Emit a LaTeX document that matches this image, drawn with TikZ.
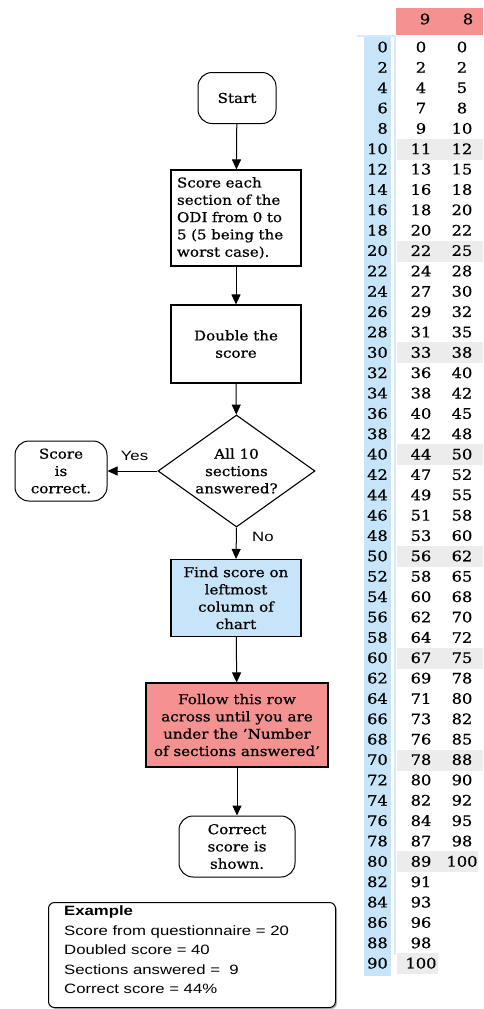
\documentclass[tikz,border=0pt]{standalone}
\usepackage{fontspec}
\setmainfont{DejaVu Serif}[FakeStretch=1.12,FakeBold=0.7]
\newfontfamily\examplefont{Liberation Sans}[FakeStretch=1.24]
\usepackage{tikz}
\usetikzlibrary{shapes,arrows.meta,shadows}

\definecolor{headPink}{RGB}{244,146,146}
\definecolor{colBlue}{RGB}{199,228,248}
\definecolor{lineBlue}{RGB}{214,234,249}
\definecolor{rowGray}{RGB}{236,236,236}

\tikzset{
  flowtext/.style={font=\fontsize{13.5}{17.3}\selectfont},
  terminal/.style={draw, line width=1pt, rounded corners=14pt, align=center, inner sep=0pt, flowtext},
  process/.style={draw, line width=1.1pt, rectangle, align=center, inner sep=0pt, flowtext},
  decision/.style={draw, line width=1.1pt, diamond, aspect=1.4, align=center, inner sep=0pt, flowtext},
  flowarrow/.style={line width=1pt, -{Triangle[length=10pt,width=9pt]}},
  flowlabel/.style={font=\examplefont\fontsize{13.5}{15}\selectfont},
  chartnum/.style={inner sep=0pt, font=\fontsize{14.5}{14.5}\selectfont}
}

\begin{document}
\begin{tikzpicture}[x=1pt,y=-1pt]
  \useasboundingbox (0,0) rectangle (483,1009);

  % chart on the right
  \fill[headPink] (396,8) rectangle (483,35);
  \fill[colBlue] (364,37) rectangle (391,976);
  \foreach \i in {5,10,...,35} \fill[rowGray] (397,{37+20.36*\i}) rectangle (483,{58+20.36*\i});
  \fill[rowGray] (397,{37+20.36*40}) rectangle (478,{58+20.36*40});
  \fill[rowGray] (397,{37+20.36*45}) rectangle (438,{58+20.36*45});
  \draw[lineBlue, line width=1.2pt] (357,36) -- (396,36);
  \draw[lineBlue, line width=1.2pt] (395,36) -- (395,955);

  \node[chartnum] (headNine) at (425,19) {9};
  \node[chartnum] (headEight) at (468,19) {8};

  \foreach \lft/\nine/\eight [count=\i from 0] in {0/0/0, 2/2/2, 4/4/5, 6/7/8, 8/9/10, 10/11/12, 12/13/15, 14/16/18, 16/18/20, 18/20/22, 20/22/25, 22/24/28, 24/27/30, 26/29/32, 28/31/35, 30/33/38, 32/36/40, 34/38/42, 36/40/45, 38/42/48, 40/44/50, 42/47/52, 44/49/55, 46/51/58, 48/53/60, 50/56/62, 52/58/65, 54/60/68, 56/62/70, 58/64/72, 60/67/75, 62/69/78, 64/71/80, 66/73/82, 68/76/85, 70/78/88, 72/80/90, 74/82/92, 76/84/95, 78/87/98, 80/89/100} {
    \node[chartnum, anchor=east] (left\lft) at (388,{47+20.36*\i}) {\lft};
    \node[chartnum] (nine\lft) at (421,{47+20.36*\i}) {\nine};
    \node[chartnum] (eight\lft) at (462,{47+20.36*\i}) {\eight};
  }
  \foreach \lft/\nine [count=\i from 41] in {82/91, 84/93, 86/96, 88/98, 90/100} {
    \node[chartnum, anchor=east] (left\lft) at (388,{47+20.36*\i}) {\lft};
    \node[chartnum] (nine\lft) at (421,{47+20.36*\i}) {\nine};
  }

  % flowchart
  \node[terminal, minimum width=78pt, minimum height=51pt] (startNode) at (237,98) {Start};
  \node[process, minimum width=130pt, minimum height=96pt, align=left, text width=118pt, inner xsep=6pt] (scoreNode) at (236,218) {Score each\\section of the\\ODI from 0 to\\5 (5 being the\\worst case).};
  \node[process, minimum width=130pt, minimum height=78pt] (doubleNode) at (236,344) {Double the\\score};
  \node[decision, minimum width=157pt, minimum height=112pt] (answeredNode) at (236.5,471) {All 10\\sections\\answered?};
  \node[terminal, minimum width=92pt, minimum height=60pt] (correctNode) at (61,471) {Score\\is\\correct.};
  \node[process, fill=colBlue, minimum width=130pt, minimum height=77pt] (findNode) at (236,598) {Find score on\\leftmost\\column of\\chart};
  \node[process, fill=headPink, minimum width=182pt, minimum height=84pt] (followNode) at (237,725) {Follow this row\\across until you are\\under the 'Number\\of sections answered'};
  \node[terminal, minimum width=116pt, minimum height=61pt] (shownNode) at (237,846.5) {Correct\\score is\\shown.};

  \draw[flowarrow] (startNode) -- (scoreNode);
  \draw[flowarrow] (scoreNode) -- (doubleNode);
  \draw[flowarrow] (doubleNode) -- (answeredNode);
  \draw[flowarrow] (answeredNode.west) -- (correctNode.east) node[flowlabel, midway, above, yshift=7pt, xshift=2pt] {Yes};
  \draw[flowarrow] (answeredNode.south) -- (findNode.north) node[flowlabel, pos=0.3, right, xshift=12pt] {No};
  \draw[flowarrow] (findNode) -- (followNode);
  \draw[flowarrow] (followNode) -- (shownNode);

  % worked example
  \node[draw, line width=1pt, rounded corners=6pt, fill=white, drop shadow={shadow xshift=1.5pt, shadow yshift=-1.5pt, opacity=0.6}, anchor=north west, minimum width=287pt, minimum height=105pt] (exampleNode) at (48,902) {};
  \node[anchor=north west, inner sep=0pt, align=left, font=\examplefont\fontsize{13.5}{19.6}\selectfont] (exampleText) at (64,905.5) {\textbf{Example}\\Score from questionnaire = 20\\Doubled score = 40\\Sections answered =~ 9\\Correct score = 44\%};
\end{tikzpicture}
\end{document}
